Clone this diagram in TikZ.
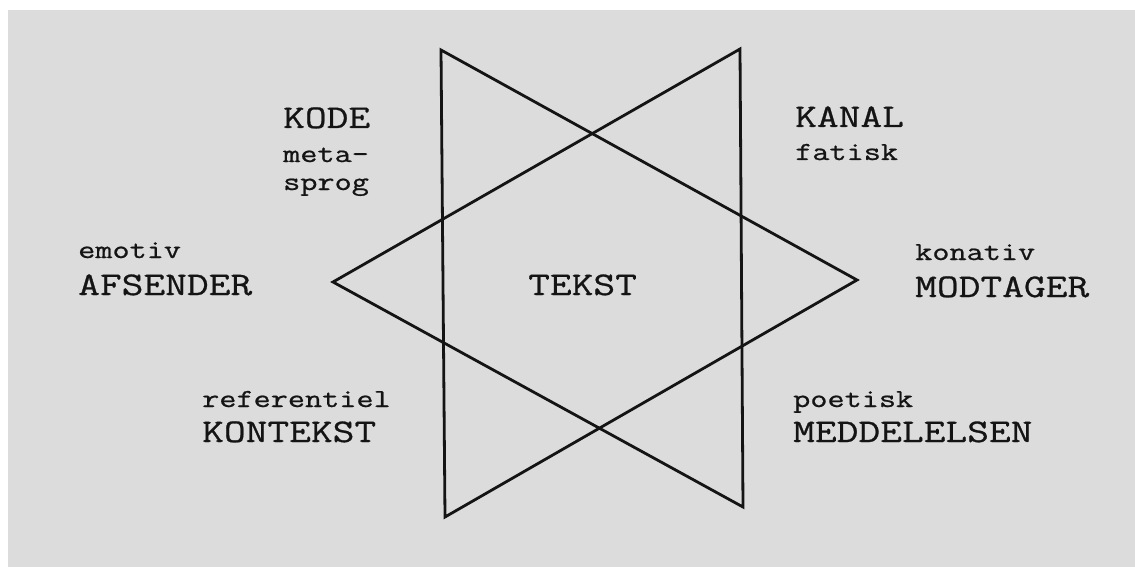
\documentclass[tikz,border=0pt]{standalone}
\usepackage{fontspec}
\newfontfamily\typew{Latin Modern Mono}[FakeStretch=1.28,FakeBold=0.8]
\definecolor{paper}{HTML}{DCDCDC}
\definecolor{ink}{HTML}{141414}
\begin{document}
\begin{tikzpicture}[x=1pt,y=-1pt,
  big/.style={anchor=base west,inner sep=0pt,text=ink,font=\typew\fontsize{33}{33}\selectfont},
  small/.style={anchor=base west,inner sep=0pt,text=ink,font=\typew\fontsize{26}{26}\selectfont},
  tri/.style={draw=ink,line width=2.8pt,line join=miter}]
\useasboundingbox (0,0) rectangle (1135,567);
\fill[white] (0,0) rectangle (1135,567);
\fill[paper] (8,10) rectangle (1135,567);
% triangle pointing right
\coordinate (a1) at (441,50);
\coordinate (a2) at (445,517);
\coordinate (a3) at (857,280);
% triangle pointing left
\coordinate (b1) at (740,49);
\coordinate (b2) at (743,507);
\coordinate (b3) at (333,282);
\draw[tri] (a1) -- (a2) -- (a3) -- cycle;
\draw[tri] (b1) -- (b2) -- (b3) -- cycle;
% labels
\node[big] (kode) at (283,128) {KODE};
\node[small] (meta) at (283,162) {meta-};
\node[small] (sprog) at (283,190) {sprog};
\node[big] (kanal) at (795,127) {KANAL};
\node[small] (fatisk) at (795,160) {fatisk};
\node[small] (emotiv) at (78,258) {emotiv};
\node[big] (afsender) at (78,295) {AFSENDER};
\node[big] (tekst) at (528,295) {TEKST};
\node[small] (konativ) at (915,260) {konativ};
\node[big] (modtager) at (915,297) {MODTAGER};
\node[small] (referentiel) at (202,407) {referentiel};
\node[big] (kontekst) at (202,442) {KONTEKST};
\node[small] (poetisk) at (793,407) {poetisk};
\node[big] (meddelelsen) at (793,442) {MEDDELELSEN};
\end{tikzpicture}
\end{document}
